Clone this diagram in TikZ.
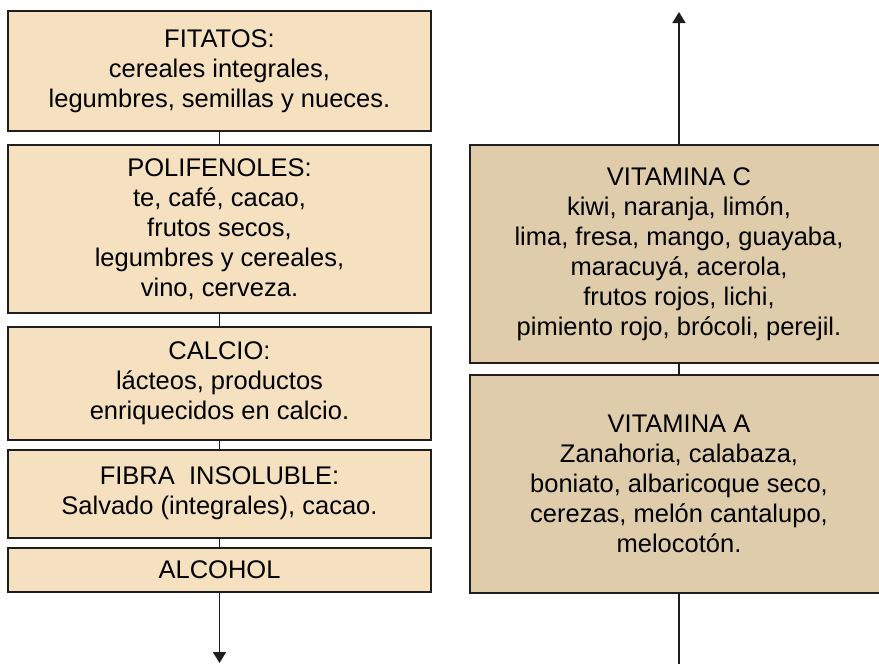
\documentclass[tikz,border=0pt]{standalone}
\usepackage{fontspec}
\setmainfont{Liberation Sans}
\usetikzlibrary{arrows.meta}
\definecolor{cajaclara}{HTML}{F5E0C0}
\definecolor{cajaoscura}{HTML}{DFCCAB}
\definecolor{borde}{HTML}{1E1E1E}
\begin{document}
\begin{tikzpicture}[x=1pt,y=-1pt,
	caja/.style={draw=borde, line width=2pt, fill=cajaclara, align=center,
		inner sep=0pt, font=\fontsize{25.5}{30}\selectfont, minimum width=423pt},
	cajader/.style={caja, fill=cajaoscura, minimum width=418pt, minimum height=218pt},
	flecha/.style={draw=borde, line width=1.8pt, -{Triangle[width=13pt,length=11pt]}},
	linea/.style={draw=borde, line width=1.8pt}]
	% Marco de la imagen
	\clip (0,0) rectangle (879,664);
	\coordinate (abajo) at (219.5,663);
	\coordinate (arriba) at (679,12);
	\coordinate (fin) at (679,670);
	
	% Columna izquierda
	\node[caja, minimum height=120pt] (fit) at (219.5,71) {FITATOS:\\cereales integrales,\\legumbres, semillas y nueces.};
	\node[caja, minimum height=168pt] (poli) at (219.5,229) {POLIFENOLES:\\te, café, cacao,\\frutos secos,\\legumbres y cereales,\\vino, cerveza.};
	\node[caja, minimum height=113pt] (calcio) at (219.5,383.5) {CALCIO:\\lácteos, productos\\enriquecidos en calcio.};
	\node[caja, minimum height=88pt] (fibra) at (219.5,493.5) {FIBRA\ \ INSOLUBLE:\\Salvado (integrales), cacao.};
	\node[caja, minimum height=44pt] (alcohol) at (219.5,570) {ALCOHOL};
	
	% Columna derecha
	\node[cajader] (vitc) at (679,254) {VITAMINA C\\kiwi, naranja, limón,\\lima, fresa, mango, guayaba,\\maracuyá, acerola,\\frutos rojos, lichi,\\pimiento rojo, brócoli, perejil.};
	\node[cajader] (vita) at (679,484) {VITAMINA A\\Zanahoria, calabaza,\\boniato, albaricoque seco,\\cerezas, melón cantalupo,\\melocotón.};
	
	% Conectores
	\draw[linea] (fit) -- (poli) (poli) -- (calcio) (calcio) -- (fibra) (fibra) -- (alcohol);
	\draw[flecha] (alcohol) -- (abajo);
	\draw[linea] (vitc) -- (vita) (vita.south) -- (fin);
	\draw[flecha] (vitc) -- (arriba);
\end{tikzpicture}
\end{document}
